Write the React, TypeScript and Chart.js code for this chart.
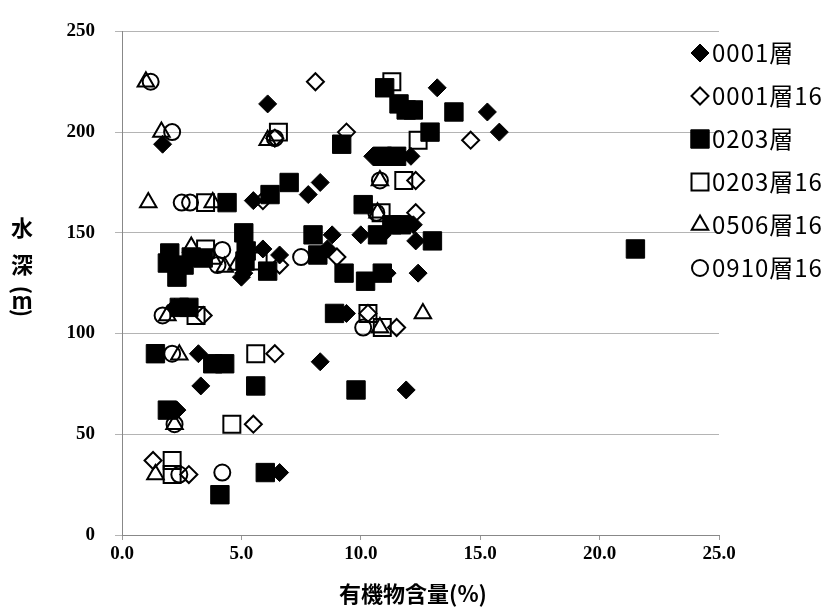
import React, { useEffect, useRef } from "react";
import { Chart, registerables } from "chart.js";
Chart.register(...registerables);

const seriesNames = ["0001層", "0001層16", "0203層", "0203層16", "0506層16", "0910層16"];
const xTickLabels = ["0.0", "5.0", "10.0", "15.0", "20.0", "25.0"];
const yTickLabels = ["0", "50", "100", "150", "200", "250"];

const s0001: [number, number][] = [
  [6.1, 214], [1.7, 194], [5.5, 166], [7.8, 169], [8.3, 175], [13.2, 222], [11.7, 212], [15.3, 210],
  [15.8, 200], [10.5, 188], [10.9, 188], [11.3, 188], [11.7, 188], [12.1, 188], [12.2, 154], [8.8, 149],
  [10.0, 149], [10.9, 149], [12.3, 146], [8.6, 142], [11.1, 130], [12.4, 130], [9.4, 110], [8.3, 86],
  [3.1, 138], [5.9, 142], [6.6, 139], [5.0, 128], [2.2, 113], [3.2, 90], [3.3, 74], [2.3, 62],
  [6.6, 31], [11.9, 72], [5.1, 130],
];
const s0001_16: [number, number][] = [
  [8.1, 225], [6.4, 197], [9.4, 200], [14.6, 196], [12.3, 176], [12.3, 160], [5.9, 166], [9.0, 138],
  [6.6, 134], [3.4, 109], [10.3, 110], [11.5, 103], [6.4, 90], [5.5, 55], [1.3, 37], [2.8, 30],
];
const s0203: [number, number][] = [
  [11.0, 222], [11.6, 214], [11.9, 211], [12.2, 211], [13.9, 210], [12.9, 200], [9.2, 194], [10.9, 188],
  [11.5, 188], [6.2, 169], [7.0, 175], [4.4, 165], [10.1, 164], [11.3, 154], [11.7, 154], [8.0, 149],
  [10.7, 149], [13.0, 146], [5.1, 150], [5.2, 141], [5.15, 136], [6.1, 131], [8.2, 139], [2.0, 140],
  [1.9, 135], [2.3, 128], [2.6, 134], [3.4, 137.5], [9.3, 130], [10.2, 126], [10.9, 130], [8.9, 110],
  [2.4, 113], [2.8, 113], [1.4, 90], [3.8, 85], [4.3, 85], [5.6, 74], [9.8, 72], [1.9, 62],
  [4.1, 20], [6.0, 31], [21.5, 142], [2.9, 138],
];
const s0203_16: [number, number][] = [
  [11.3, 225], [6.55, 200], [12.4, 196], [11.8, 176], [10.85, 160], [3.5, 165], [3.5, 142], [5.7, 136],
  [10.3, 110], [10.9, 103], [3.1, 109], [5.6, 90], [4.6, 55], [2.1, 37], [2.1, 30],
];
const s0506_16: [number, number][] = [
  [1.0, 225], [1.65, 200], [6.1, 196], [1.1, 165], [3.8, 165], [10.8, 176], [2.9, 143], [4.3, 133],
  [4.8, 134], [3.8, 137], [1.9, 109], [2.4, 89.5], [2.2, 55], [1.4, 30], [10.8, 103], [12.6, 110],
  [10.7, 160],
];
const s0910_16: [number, number][] = [
  [1.2, 225], [2.1, 200], [6.4, 197], [2.5, 165], [2.85, 165], [10.8, 176], [10.65, 160], [4.2, 141.5],
  [4.0, 134], [7.5, 138], [1.7, 109], [2.1, 90], [2.2, 55], [2.4, 30], [4.2, 31], [10.1, 103],
];

const seriesData = [s0001, s0001_16, s0203, s0203_16, s0506_16, s0910_16];

type Marker = { style: string; radius: number; filled: boolean };
const markers: Marker[] = [
  { style: "rectRot", radius: 9, filled: true },
  { style: "rectRot", radius: 8.5, filled: false },
  { style: "rect", radius: 13, filled: true },
  { style: "rect", radius: 12, filled: false },
  { style: "triangle", radius: 9.5, filled: false },
  { style: "circle", radius: 8, filled: false },
];

function drawMarker(ctx: CanvasRenderingContext2D, m: Marker, x: number, y: number) {
  ctx.save();
  ctx.beginPath();
  const r = m.radius;
  if (m.style === "rectRot") {
    ctx.moveTo(x - r, y); ctx.lineTo(x, y - r); ctx.lineTo(x + r, y); ctx.lineTo(x, y + r); ctx.closePath();
  } else if (m.style === "rect") {
    const s = r * Math.SQRT1_2;
    ctx.rect(x - s, y - s, 2 * s, 2 * s);
  } else if (m.style === "triangle") {
    ctx.moveTo(x, y - r);
    ctx.lineTo(x + Math.sin(2 * Math.PI / 3) * r, y + 0.5 * r);
    ctx.lineTo(x - Math.sin(2 * Math.PI / 3) * r, y + 0.5 * r);
    ctx.closePath();
  } else {
    ctx.arc(x, y, r, 0, Math.PI * 2);
  }
  if (m.filled) { ctx.fillStyle = "#000"; ctx.fill(); ctx.lineWidth = 1; ctx.strokeStyle = "#000"; ctx.stroke(); }
  else { ctx.lineWidth = 2; ctx.strokeStyle = "#000"; ctx.stroke(); }
  ctx.restore();
}

const overlayPlugin = {
  id: "overlay",
  afterDraw(chart: any) {
    const ctx: any = chart.ctx;
    ctx.save();
    ctx.font = '24px "Noto Sans CJK JP"';
    ctx.letterSpacing = "1px";
    ctx.fillStyle = "#000";
    ctx.textBaseline = "middle";
    ctx.textAlign = "left";
    seriesNames.forEach((name, i) => {
      const y = 53 + i * 43;
      drawMarker(ctx, markers[i], 700, y);
      ctx.fillText(name, 712, y);
    });
    ctx.letterSpacing = "0px";
    // y title
    ctx.font = 'bold 22px "Noto Sans CJK JP"';
    ctx.textAlign = "center";
    ctx.fillText("水", 22, 228);
    ctx.fillText("深", 22, 265);
    ctx.save();
    ctx.translate(22, 290); ctx.rotate(Math.PI / 2); ctx.fillText("(", 0, 0); ctx.restore();
    ctx.fillText("m", 22, 301);
    ctx.save();
    ctx.translate(22, 313); ctx.rotate(Math.PI / 2); ctx.fillText(")", 0, 0); ctx.restore();
    // x title
    ctx.font = 'bold 22px "Noto Sans CJK JP"';
    ctx.fillText("有機物含量(%)", 413, 594);
    ctx.restore();
  },
};

export default function App() {
  const ref = useRef<HTMLCanvasElement | null>(null);
  useEffect(() => {
    if (!ref.current) return;
    const datasets = seriesData.map((d, i) => ({
      label: seriesNames[i],
      data: d.map(([x, y]) => ({ x, y })),
      pointStyle: markers[i].style,
      pointRadius: markers[i].radius,
      pointHoverRadius: markers[i].radius,
      backgroundColor: markers[i].filled ? "#000" : "rgba(0,0,0,0)",
      borderColor: "#000",
      borderWidth: markers[i].filled ? 1 : 2,
      showLine: false,
      order: 6 - i,
    }));
    const chart = new Chart(ref.current, {
      type: "scatter",
      data: { datasets },
      options: {
        responsive: false,
        animation: false,
        devicePixelRatio: 1,
        layout: { padding: { left: 0, right: 119, top: 23, bottom: 0 } },
        plugins: { legend: { display: false }, tooltip: { enabled: false } },
        scales: {
          x: {
            type: "linear", min: 0, max: 25,
            ticks: {
              stepSize: 5, color: "#000", padding: 3, maxRotation: 0,
              font: { family: '"Liberation Serif"', size: 19, weight: "bold" },
              callback: (v: any) => xTickLabels[Math.round(Number(v) / 5)] ?? "",
            },
            grid: { drawOnChartArea: false, drawTicks: true, tickLength: 5, color: "#999" },
            border: { color: "#888" },
            afterFit: (s: any) => { s.height = 73; },
          },
          y: {
            min: 0, max: 250,
            ticks: {
              stepSize: 50, color: "#000", padding: 20,
              font: { family: '"Liberation Serif"', size: 19, weight: "bold" },
              callback: (v: any) => yTickLabels[Math.round(Number(v) / 50)] ?? "",
            },
            grid: { color: "#b4b4b4", tickLength: 7 },
            border: { color: "#888" },
            afterFit: (s: any) => { s.width = 122; },
          },
        },
      } as any,
      plugins: [overlayPlugin],
    });
    return () => chart.destroy();
  }, []);
  return (
    <div style={{ position: "absolute", left: 0, top: 0, width: 838, height: 608, background: "#fff" }}>
      <canvas ref={ref} width={838} height={608} style={{ display: "block", width: 838, height: 608 }} />
    </div>
  );
}
